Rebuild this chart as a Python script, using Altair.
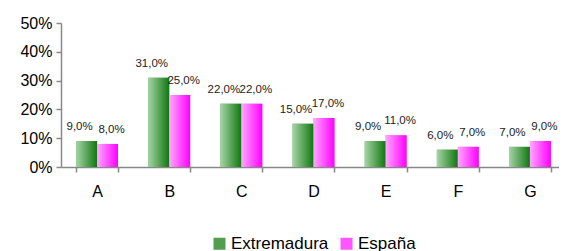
import altair as alt
import pandas as pd

categories = ["A", "B", "C", "D", "E", "F", "G"]
extremadura = [9, 31, 22, 15, 9, 6, 7]
espana = [8, 25, 22, 17, 11, 7, 9]
series = ["Extremadura", "España"]

rows = []
for c, a, b in zip(categories, extremadura, espana):
    for s, v in ((series[0], a), (series[1], b)):
        rows.append({"cat": c, "serie": s, "v": v / 100.0,
                     "label": f"{v:.1f}%".replace(".", ",")})
df = pd.DataFrame(rows)

green = alt.Gradient(gradient="linear", x1=0, x2=1, y1=0, y2=0,
                     stops=[alt.GradientStop(color="#a6d4a6", offset=0),
                            alt.GradientStop(color="#0f780f", offset=1)])
pink = alt.Gradient(gradient="linear", x1=0, x2=1, y1=0, y2=0,
                    stops=[alt.GradientStop(color="#ffa8ff", offset=0),
                           alt.GradientStop(color="#ff00ff", offset=1)])

x = alt.X("cat:N", sort=categories, title=None,
          scale=alt.Scale(paddingInner=0.42, paddingOuter=0.21),
          axis=alt.Axis(labelAngle=0, tickBand="extent", labelPadding=11,
                        labelFont="Liberation Sans", labelFontSize=16,
                        labelColor="#000", domainColor="#888", tickColor="#888",
                        tickSize=5, domainWidth=1.5, tickWidth=1.5, grid=False))
xo = alt.XOffset("serie:N", sort=series, scale=alt.Scale(paddingInner=0, paddingOuter=0))
y = alt.Y("v:Q", title=None,
          scale=alt.Scale(domain=[0, 0.5]),
          axis=alt.Axis(format=".0%", values=[0, 0.1, 0.2, 0.3, 0.4, 0.5],
                        labelFont="Liberation Sans", labelFontSize=16,
                        labelColor="#000", domainColor="#888", tickColor="#888",
                        tickSize=5, domainWidth=1.5, tickWidth=1.5, grid=False,
                        labelPadding=4))

base = alt.Chart(df)

legend_bars = base.mark_bar().encode(
    x=x, xOffset=xo, y=y,
    color=alt.Color("serie:N", sort=series,
                    scale=alt.Scale(domain=series, range=["#4f9f4f", "#ff55ff"]),
                    legend=alt.Legend(title=None, orient="none", direction="horizontal",
                                      legendX=150, legendY=212,
                                      symbolType="square", symbolSize=144,
                                      labelFont="Liberation Sans", labelFontSize=17,
                                      labelColor="#000", symbolStrokeWidth=0,
                                      columnPadding=9, labelOffset=3)))

g_bars = base.mark_bar(color=green).encode(x=x, xOffset=xo, y=y).transform_filter(
    alt.datum.serie == series[0])
p_bars = base.mark_bar(color=pink).encode(x=x, xOffset=xo, y=y).transform_filter(
    alt.datum.serie == series[1])

g_labels = base.mark_text(font="Liberation Sans", fontSize=11.5, color="#222",
                          baseline="bottom", dy=-9, dx=-7).encode(
    x=x, xOffset=xo, y=y, text="label:N").transform_filter(alt.datum.serie == series[0])
p_labels = base.mark_text(font="Liberation Sans", fontSize=11.5, color="#222",
                          baseline="bottom", dy=-9, dx=4).encode(
    x=x, xOffset=xo, y=y, text="label:N").transform_filter(alt.datum.serie == series[1])

chart = alt.layer(legend_bars, g_bars, p_bars, g_labels, p_labels).properties(
    width=505, height=144,
    autosize=alt.AutoSizeParams(type="none"),
    padding={"left": 53, "top": 15, "right": -7, "bottom": 84},
).configure_view(stroke=None)

chart.save("out.html", embed_options={"renderer": "svg", "actions": False})
